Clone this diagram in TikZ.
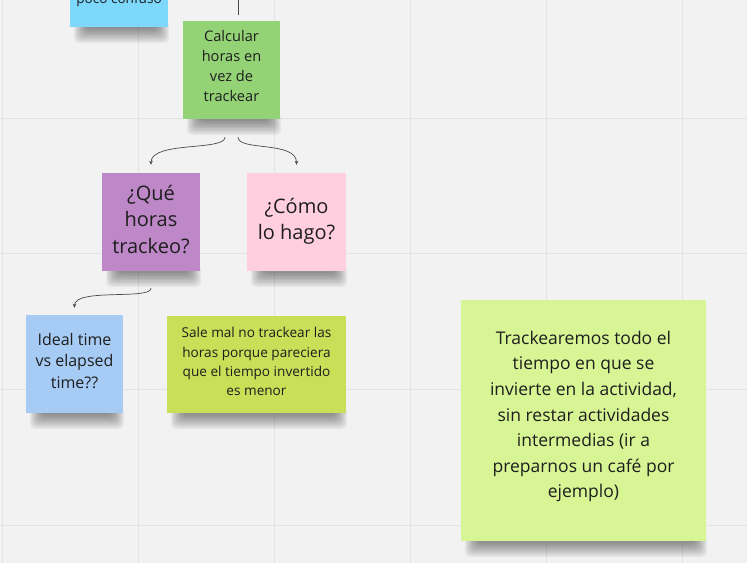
\documentclass[tikz,border=0pt]{standalone}
\usepackage{fontspec}
\setmainfont{Open Sans}
\usepackage{tikz}
\usetikzlibrary{arrows.meta,positioning,calc}
\definecolor{bgc}{HTML}{F2F2F2}
\definecolor{gridc}{HTML}{E3E3E3}
\definecolor{txtc}{HTML}{1E1E1E}
\definecolor{lnc}{HTML}{4A4A4A}
\definecolor{cyanst}{HTML}{7DD8FB}
\definecolor{greenst}{HTML}{94D276}
\definecolor{purpst}{HTML}{BE88C8}
\definecolor{pinkst}{HTML}{FFCFE0}
\definecolor{bluest}{HTML}{A6CCF5}
\definecolor{limest}{HTML}{C9DF57}
\definecolor{paleST}{HTML}{D7F594}
\pgfdeclarelayer{shad}
\pgfsetlayers{shad,main}
\tikzset{
  st/.style      = {rectangle, inner sep=0pt, minimum width=98pt, minimum height=98pt},
  tx/.style      = {align=center, text=txtc, inner sep=0pt},
  fs/.style      = {font=\fontsize{14.6}{20.3}\selectfont},
  fm/.style      = {font=\fontsize{16}{21.5}\selectfont},
  fl/.style      = {font=\fontsize{20}{26.5}\selectfont},
  fxs/.style     = {font=\fontsize{13.6}{19.2}\selectfont},
  fbig/.style    = {font=\fontsize{17.5}{25.6}\selectfont},
  con/.style     = {draw=lnc, line width=0.7pt},
  arr/.style     = {con, -{Stealth[length=4pt,width=3.6pt]}},
}
% soft shadow under the bottom edge of a sticky note
\newcommand{\stshadow}[1]{%
  \begin{pgfonlayer}{shad}
    \foreach \k in {0,...,10}
      {\fill[black, opacity=0.042, rounded corners=5pt]
        ($(#1.south west)+(4+1.2*\k,-6)$) rectangle ($(#1.south east)+(1-1.2*\k,16-1.4*\k)$);}
  \end{pgfonlayer}}
\begin{document}
\begin{tikzpicture}[x=1pt,y=-1pt]
  \clip (0,0) rectangle (747,563);
  \begin{pgfonlayer}{shad}
    \fill[bgc] (0,0) rectangle (747,563);
    \foreach \gx in {2,138,274,410,546,682} \draw[gridc, line width=1pt] (\gx,0) -- (\gx,563);
    \foreach \gy in {118,253,389,525} \draw[gridc, line width=1pt] (0,\gy) -- (747,\gy);
  \end{pgfonlayer}

  \node[st, fill=cyanst] (conf) at (119,-22) {};
  \node[tx, fxs, anchor=base] (conftx) at (119,3) {poco confuso};

  \node[st, fill=greenst, minimum width=97pt] (calc) at (231.5,70) {};
  \node[tx, fs] (calctx) at ([shift={(0,-4)}]calc.center) {Calcular\\horas en\\vez de\\trackear};

  \node[st, fill=purpst] (que) at (151,222) {};
  \node[tx, fl] (quetx) at ([shift={(0,-3)}]que.center) {¿Qué\\horas\\trackeo?};

  \node[st, fill=pinkst, minimum width=99pt] (como) at (296.5,222) {};
  \node[tx, fl] (comotx) at ([shift={(0,-1)}]como.center) {¿Cómo\\lo hago?};

  \node[st, fill=bluest, minimum width=97pt] (ideal) at (74.5,364) {};
  \node[tx, fm] (idealtx) at ([shift={(0,-3)}]ideal.center) {Ideal time\\vs elapsed\\time??};

  \node[st, fill=limest, minimum width=179pt, minimum height=97pt] (sale) at (256.5,364.5) {};
  \node[tx, fxs] (saletx) at ([shift={(0,-3)}]sale.center)
    {Sale mal no trackear las\\horas porque pareciera\\que el tiempo invertido\\es menor};

  \node[st, fill=paleST, minimum width=245pt, minimum height=241pt] (track) at (583.5,420.5) {};
  \node[tx, fbig] (tracktx) at ([shift={(0,-4)}]track.center)
    {Trackearemos todo el\\tiempo en que se\\invierte en la actividad,\\sin restar actividades\\intermedias (ir a\\preparnos un café por\\ejemplo)};

  \foreach \s in {conf,calc,que,como,ideal,sale,track} {\stshadow{\s}}

  \coordinate (up) at (238,-5);
  \draw[con] (up) -- ([shift={(6.5,-6)}]calc.north);
  \draw[arr] ([shift={(-6.5,18)}]calc.south) .. controls +(0,14) and +(0,-24) .. ([shift={(0,-8)}]que.north);
  \draw[arr] ([shift={(6.5,18)}]calc.south) .. controls +(0,14) and +(0,-24) .. ([shift={(0,-8)}]como.north);
  \draw[arr] ([shift={(0,17)}]que.south) .. controls +(0,12) and +(0,-20) .. ([shift={(0,-7)}]ideal.north);
\end{tikzpicture}
\end{document}
